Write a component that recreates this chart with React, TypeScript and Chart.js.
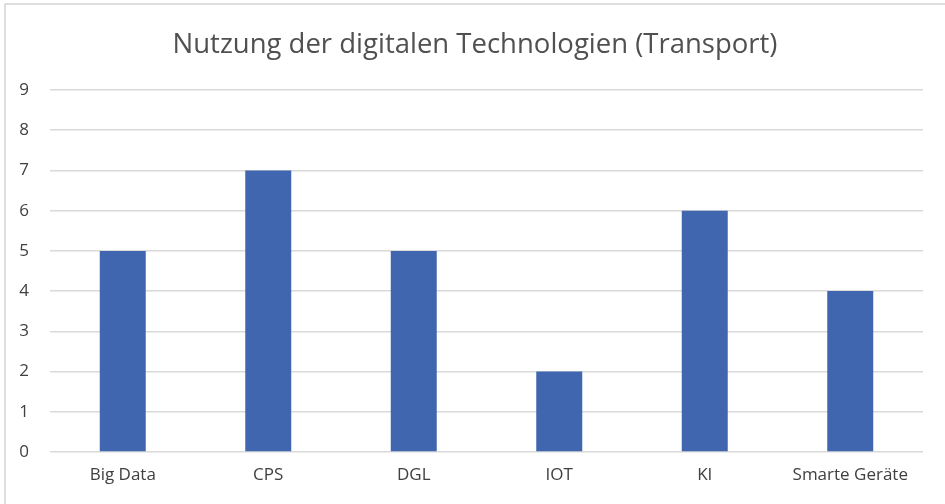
import React, { useEffect, useRef } from "react";
import { Chart, registerables } from "chart.js";

Chart.register(...registerables);

const categories = ["Big Data", "CPS", "DGL", "IOT", "KI", "Smarte Geräte"];
const values = [5, 7, 5, 2, 6, 4];
const titleText = "Nutzung der digitalen Technologien (Transport)";
const yMin = 0;
const yMax = 9;
const yStep = 1;

const framePlugin = {
  id: "frame",
  beforeDraw(chart: any) {
    const { ctx, width, height } = chart;
    ctx.save();
    ctx.fillStyle = "#ffffff";
    ctx.fillRect(0, 0, width, height);
    ctx.strokeStyle = "#d4d4d4";
    ctx.lineWidth = 1.5;
    ctx.beginPath();
    ctx.moveTo(5, height);
    ctx.lineTo(5, 4);
    ctx.lineTo(width, 4);
    ctx.stroke();
    ctx.restore();
  },
  afterDraw(chart: any) {
    const { ctx } = chart;
    ctx.save();
    ctx.fillStyle = "#505050";
    ctx.font = "27.5px 'Open Sans'";
    ctx.textAlign = "center";
    ctx.textBaseline = "middle";
    ctx.fillText(titleText, 475, 45);
    ctx.restore();
  },
};

export default function App() {
  const ref = useRef<HTMLCanvasElement | null>(null);
  useEffect(() => {
    document.body.style.margin = "0";
    const canvas = ref.current!;
    const chart = new Chart(canvas, {
      type: "bar",
      data: {
        labels: categories,
        datasets: [
          {
            data: values,
            backgroundColor: "#3f66af",
            borderWidth: 0,
            categoryPercentage: 1,
            barPercentage: 0.316,
          },
        ],
      },
      options: {
        responsive: false,
        animation: false,
        devicePixelRatio: 1,
        layout: { padding: { top: 90, right: 22, bottom: 0, left: 0 } },
        plugins: {
          legend: { display: false },
          tooltip: { enabled: false },
          title: { display: false },
        },
        scales: {
          x: {
            grid: { display: false, drawTicks: false },
            border: { display: false },
            ticks: {
              color: "#404040",
              font: { family: "Open Sans", size: 17 },
              padding: 13,
              maxRotation: 0,
            },
            afterFit(scale: any) {
              scale.height = 52;
            },
          },
          y: {
            min: yMin,
            max: yMax,
            grid: { color: "#d9d9d9", lineWidth: 1.5, drawTicks: false },
            border: { display: false },
            ticks: {
              stepSize: yStep,
              color: "#404040",
              font: { family: "Open Sans", size: 17 },
              padding: 21,
            },
            afterFit(scale: any) {
              scale.width = 50;
            },
          },
        },
      },
      plugins: [framePlugin],
    });
    return () => chart.destroy();
  }, []);
  return <canvas ref={ref} width={945} height={504} style={{ display: "block" }} />;
}
